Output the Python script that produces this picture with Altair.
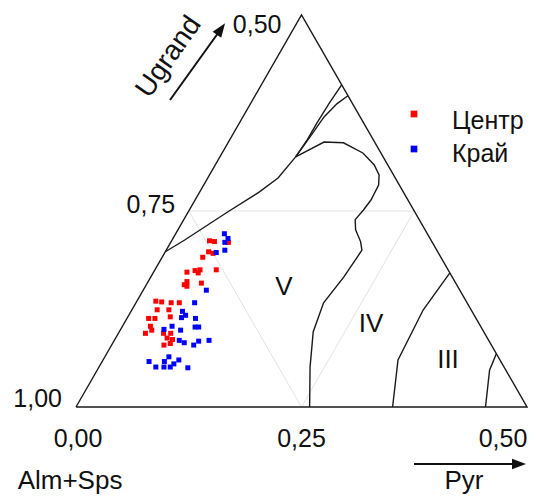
import altair as alt
import pandas as pd

# ---------------- data: ternary fractions (Pyr, Ugrand); Alm+Sps = 1 - Pyr - Ugrand -------------
centre_pyr = [0.042, 0.048, 0.048, 0.054, 0.045, 0.037, 0.045, 0.050, 0.050, 0.068, 0.043,
              0.042, 0.046, 0.060, 0.021, 0.028, 0.039, 0.048, 0.028, 0.041, 0.024, 0.031,
              0.047, 0.031, 0.030, 0.035, 0.050, 0.058, 0.057, 0.058, 0.064, 0.064, 0.064]
centre_ugr = [0.212, 0.211, 0.198, 0.196, 0.191, 0.172, 0.174, 0.175, 0.171, 0.175, 0.160,
              0.156, 0.154, 0.158, 0.135, 0.134, 0.133, 0.133, 0.124, 0.124, 0.113, 0.113,
              0.115, 0.103, 0.094, 0.098, 0.094, 0.094, 0.088, 0.079, 0.081, 0.086, 0.210]
rim_pyr = [0.054, 0.061, 0.060, 0.065, 0.057, 0.070, 0.065, 0.057, 0.063, 0.060, 0.076,
           0.055, 0.048, 0.067, 0.081, 0.085, 0.072, 0.079, 0.094, 0.091, 0.105, 0.071,
           0.052, 0.063, 0.069, 0.072, 0.079, 0.081, 0.084, 0.099]
rim_ugr = [0.221, 0.215, 0.210, 0.200, 0.197, 0.149, 0.133, 0.122, 0.117, 0.114, 0.113,
           0.103, 0.099, 0.098, 0.102, 0.102, 0.085, 0.082, 0.084, 0.079, 0.085, 0.064,
           0.058, 0.051, 0.058, 0.051, 0.051, 0.055, 0.060, 0.050]

series_names = ["Центр", "Край"]
series_colors = ["#ff0000", "#0000ff"]

# field boundaries
curve_v_pyr = [0.000, 0.014, 0.044, 0.066, 0.078, 0.084]
curve_v_ugr = [0.198, 0.213, 0.249, 0.274, 0.292, 0.319]
branch1_pyr = [0.084, 0.086, 0.086, 0.087, 0.089]
branch1_ugr = [0.319, 0.341, 0.362, 0.388, 0.411]
branch2_pyr = [0.084, 0.087, 0.090, 0.096, 0.103]
branch2_ugr = [0.319, 0.343, 0.370, 0.387, 0.397]
curve_iv_pyr = [0.084, 0.106, 0.128, 0.156, 0.176, 0.188, 0.194, 0.195, 0.193, 0.190,
                0.197, 0.210, 0.217, 0.214, 0.208, 0.215, 0.234, 0.259]
curve_iv_ugr = [0.319, 0.338, 0.337, 0.324, 0.309, 0.296, 0.283, 0.264, 0.251, 0.239,
                0.226, 0.211, 0.200, 0.166, 0.133, 0.096, 0.051, 0.000]
curve_iii_pyr = [0.329, 0.323, 0.327, 0.351]
curve_iii_ugr = [0.171, 0.124, 0.060, 0.000]
curve_ii_pyr = [0.432, 0.435, 0.454]
curve_ii_ugr = [0.068, 0.047, 0.000]

frame_pyr = [0.0, 0.5, 0.0, 0.0]
frame_ugr = [0.0, 0.0, 0.5, 0.0]
guide_pyr = [0.0, 0.25, 0.25, 0.0]
guide_ugr = [0.25, 0.25, 0.0, 0.25]

bottom_ticks = ["0,00", "0,25", "0,50"]
bottom_tick_pyr = [0.0, 0.25, 0.5]
left_ticks = ["1,00", "0,75", "0,50"]
left_tick_ugr = [0.0, 0.25, 0.5]

field_labels = ["V", "IV", "III"]

# ---------------- layout ----------------
W, H = 520, 486
SX, SY = 902.0, 784.0          # px per unit
OX, OY = 68.0, 399.0           # chart px of the Alm+Sps corner
xdom = [-OX / SX, (W - OX) / SX]
ydom = [(OY - H) / SY, OY / SY]
FONT = "Liberation Sans"
INK = "#111111"


def tx(p, g):
    return p + g / 2.0


def pg(xp, yp):
    """page pixel -> data coordinates (layout helper for annotations)"""
    return (xp - 8 - OX) / SX, (OY - (yp - 8)) / SY


xs = alt.Scale(domain=xdom, nice=False, zero=False)
ys = alt.Scale(domain=ydom, nice=False, zero=False)


def ex():
    return alt.X("X:Q", scale=xs, axis=None)


def ey():
    return alt.Y("Y:Q", scale=ys, axis=None)


def curve_rows(name, pyr, ugr):
    return [{"curve": name, "i": i, "X": tx(p, g), "Y": g} for i, (p, g) in enumerate(zip(pyr, ugr))]


black_rows = []
for nm, pp, gg in [("frame", frame_pyr, frame_ugr), ("v", curve_v_pyr, curve_v_ugr),
                   ("b1", branch1_pyr, branch1_ugr), ("b2", branch2_pyr, branch2_ugr),
                   ("iv", curve_iv_pyr, curve_iv_ugr), ("iii", curve_iii_pyr, curve_iii_ugr),
                   ("ii", curve_ii_pyr, curve_ii_ugr)]:
    black_rows += curve_rows(nm, pp, gg)
black_df = pd.DataFrame(black_rows)
guide_df = pd.DataFrame(curve_rows("guide", guide_pyr, guide_ugr))

pts = []
for p, g in zip(centre_pyr, centre_ugr):
    pts.append({"X": tx(p, g), "Y": g, "zone": series_names[0]})
for p, g in zip(rim_pyr, rim_ugr):
    pts.append({"X": tx(p, g), "Y": g, "zone": series_names[1]})
pts_df = pd.DataFrame(pts)

color_scale = alt.Scale(domain=series_names, range=series_colors)

guide = alt.Chart(guide_df).mark_line(color="#e3e3e3", strokeWidth=1).encode(
    x=ex(), y=ey(), detail="curve:N", order="i:Q")
lines = alt.Chart(black_df).mark_line(color="#1a1a1a", strokeWidth=1.4).encode(
    x=ex(), y=ey(), detail="curve:N", order="i:Q")
points = alt.Chart(pts_df).mark_square(size=25, opacity=1).encode(
    x=ex(), y=ey(), color=alt.Color("zone:N", scale=color_scale, legend=None))


def text_layer(txt, X, Y, size, dx=0, dy=0, align="center", baseline="alphabetic", angle=None):
    mk = dict(text=txt, font=FONT, fontSize=size, color=INK, align=align,
              baseline=baseline, dx=dx, dy=dy)
    if angle is not None:
        mk["angle"] = angle
    return alt.Chart(pd.DataFrame({"X": [X], "Y": [Y]})).mark_text(**mk).encode(x=ex(), y=ey())


texts = []
for lab, p, dx in zip(bottom_ticks, bottom_tick_pyr, [2, 0, -24]):
    texts.append(text_layer(lab, tx(p, 0), 0, 25, dx=dx, dy=40))
for lab, g, dx, dy in zip(left_ticks, left_tick_ugr, [-14, -13.5, -20], [0, 2, 18]):
    texts.append(text_layer(lab, tx(0, g), g, 25, dx=dx, dy=dy, align="right"))
ax, ay = pg(70, 489)
texts.append(text_layer("Alm+Sps", ax, ay, 26))
ppx, ppy = pg(464, 489)
texts.append(text_layer("Pyr", ppx, ppy, 26))
ux, uy = pg(169, 57)
texts.append(text_layer("Ugrand", ux, uy, 28, baseline="middle", angle=305))
for lab, (xp, yp) in zip(field_labels, [(284, 295), (371, 332), (448, 368)]):
    X_, Y_ = pg(xp, yp)
    texts.append(text_layer(lab, X_, Y_, 26))

# manual legend
leg_sq = []
leg_txt = []
for nm, (sx, sy), (lx, ly) in zip(series_names, [(414, 114), (414, 149)], [(452, 129), (452, 162)]):
    a, b = pg(sx, sy)
    leg_sq.append({"X": a, "Y": b, "zone": nm})
    a, b = pg(lx, ly)
    leg_txt.append({"X": a, "Y": b, "zone": nm})
legend_sq = alt.Chart(pd.DataFrame(leg_sq)).mark_square(size=45, opacity=1, cornerRadius=1).encode(
    x=ex(), y=ey(), color=alt.Color("zone:N", scale=color_scale, legend=None))
legend_txt = alt.Chart(pd.DataFrame(leg_txt)).mark_text(
    font=FONT, fontSize=25, color=INK, align="left", baseline="alphabetic").encode(
    x=ex(), y=ey(), text="zone:N")

# arrows
HEAD = "M1,0L-1,-0.75L-1,0.75Z"
arrow_rows = []
for (x1p, y1p), (x2p, y2p) in [((414, 464), (516, 464)), ((170, 100), (221, 29))]:
    a, b = pg(x1p, y1p)
    c, d = pg(x2p, y2p)
    arrow_rows.append({"X": a, "Y": b, "X2": c, "Y2": d})
arrow_lines = alt.Chart(pd.DataFrame(arrow_rows)).mark_rule(color=INK, strokeWidth=2).encode(
    x=ex(), y=ey(), x2="X2:Q", y2="Y2:Q")
heads = []
for (xp, yp), ang in [((519, 464), 0), ((221, 29), 305.6)]:
    a, b = pg(xp, yp)
    heads.append(alt.Chart(pd.DataFrame({"X": [a], "Y": [b]})).mark_point(
        shape=HEAD, size=196, filled=True, color=INK, opacity=1, strokeWidth=0, angle=ang).encode(
        x=ex(), y=ey()))

chart = alt.layer(guide, lines, points, legend_sq, legend_txt, arrow_lines, *heads, *texts).properties(
    width=W, height=H, padding=0, autosize=alt.AutoSizeParams(type="none")
).configure_view(stroke=None)

chart.save("out.html", embed_options={"renderer": "svg", "actions": False})
